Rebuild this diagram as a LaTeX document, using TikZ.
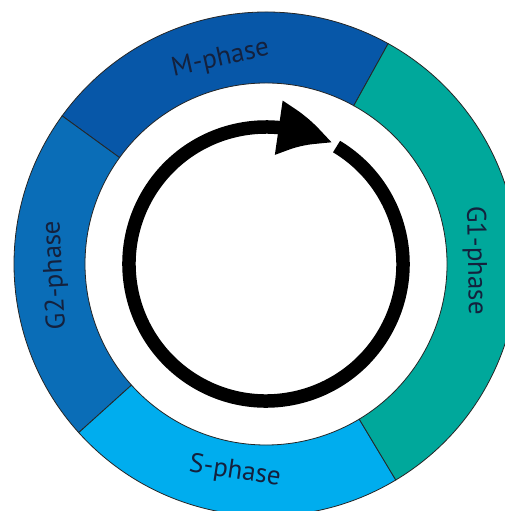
\documentclass[tikz,border=0pt]{standalone}
\usepackage{fontspec}
\setmainfont{PT Sans}
\usetikzlibrary{arrows.meta,bending}

\definecolor{mblue}{HTML}{0757A8}
\definecolor{gtwoblue}{HTML}{0A6DB7}
\definecolor{sblue}{HTML}{00ADEE}
\definecolor{gonegreen}{HTML}{00A89B}
\definecolor{labelnavy}{HTML}{14213D}

\tikzset{
  phase/.style={draw=black!85, line width=0.8pt},
  phaselabel/.style={text=labelnavy, inner sep=0pt, font=\fontsize{27}{27}\selectfont},
  cyclearrow/.style={line width=13.5pt, -{Triangle[length=58pt, width=50pt, bend]}}
}

\begin{document}
\begin{tikzpicture}[x=1pt, y=1pt]
\useasboundingbox (-266,-247) rectangle (239,264);

% ring
\filldraw[phase, fill=mblue] (61:252) arc[start angle=61, end angle=144, radius=252]
  -- (144:181) arc[start angle=144, end angle=61, radius=181] -- cycle;
\filldraw[phase, fill=gtwoblue] (144:252) arc[start angle=144, end angle=222, radius=252]
  -- (222:181) arc[start angle=222, end angle=144, radius=181] -- cycle;
\filldraw[phase, fill=sblue] (222:252) arc[start angle=222, end angle=301, radius=252]
  -- (301:181) arc[start angle=301, end angle=222, radius=181] -- cycle;
\filldraw[phase, fill=gonegreen] (-59:252) arc[start angle=-59, end angle=61, radius=252]
  -- (61:181) arc[start angle=61, end angle=-59, radius=181] -- cycle;

% labels
\node[phaselabel, rotate=12.5] (mlabel) at (102.5:210) {M-phase};
\node[phaselabel, rotate=93] (gtwolabel) at (183:211) {G2-phase};
\node[phaselabel, rotate=-8.5] (slabel) at (261.5:210) {S-phase};
\node[phaselabel, rotate=-89] (gonelabel) at (1:209) {G1-phase};

% cycle arrow
\draw[cyclearrow] (59:137) arc[start angle=59, end angle=-299, radius=137];
\end{tikzpicture}
\end{document}
